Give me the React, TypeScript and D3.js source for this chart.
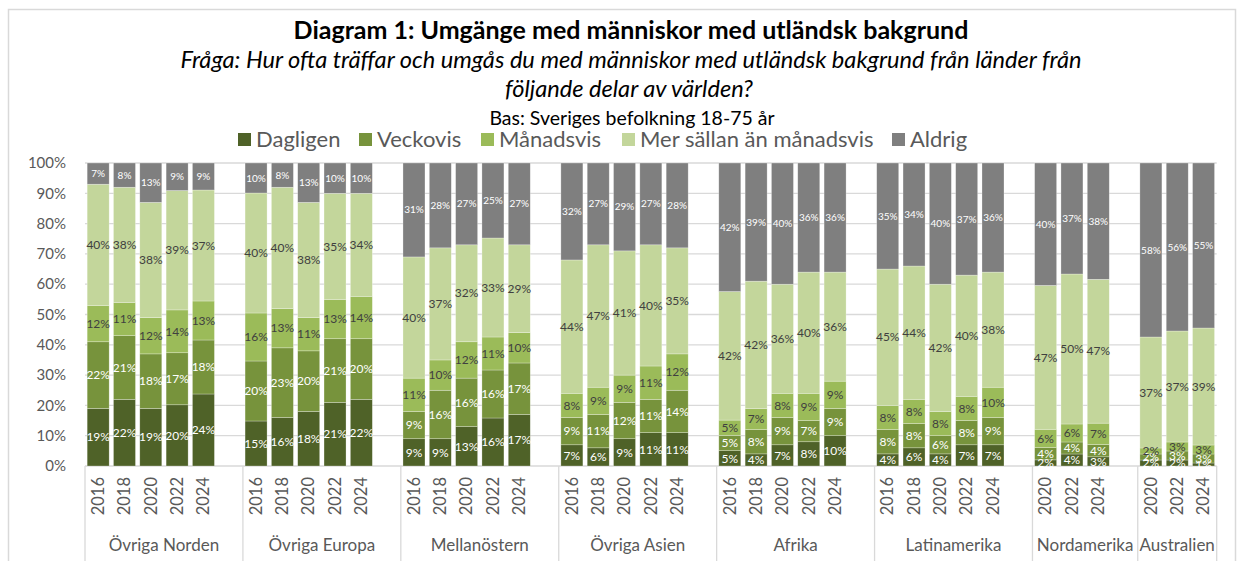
import React from "react";
import * as d3 from "d3";

// categories
const groups = [
  "Övriga Norden",
  "Övriga Europa",
  "Mellanöstern",
  "Övriga Asien",
  "Afrika",
  "Latinamerika",
  "Nordamerika",
  "Australien",
];
const yearsLong = ["2016", "2018", "2020", "2022", "2024"];
const yearsShort = ["2020", "2022", "2024"];
const groupYears = [yearsLong, yearsLong, yearsLong, yearsLong, yearsLong, yearsLong, yearsShort, yearsShort];

const seriesNames = ["Dagligen", "Veckovis", "Månadsvis", "Mer sällan än månadsvis", "Aldrig"];

// values in percent, one per bar, groups in order above
const dagligen = [19, 22, 19, 20, 24, 15, 16, 18, 21, 22, 9, 9, 13, 16, 17, 7, 6, 9, 11, 11, 5, 4, 7, 8, 10, 4, 6, 4, 7, 7, 2, 4, 3, 2, 2, 1];
const veckovis = [22, 21, 18, 17, 18, 20, 23, 20, 21, 20, 9, 16, 16, 16, 17, 9, 11, 12, 11, 14, 5, 8, 9, 7, 9, 8, 8, 6, 8, 9, 4, 4, 4, 2, 3, 3];
const manadsvis = [12, 11, 12, 14, 13, 16, 13, 11, 13, 14, 11, 10, 12, 11, 10, 8, 9, 9, 11, 12, 5, 7, 8, 9, 9, 8, 8, 8, 8, 10, 6, 6, 7, 2, 3, 3];
const merSallan = [40, 38, 38, 39, 37, 40, 40, 38, 35, 34, 40, 37, 32, 33, 29, 44, 47, 41, 40, 35, 42, 42, 36, 40, 36, 45, 44, 42, 40, 38, 47, 50, 47, 37, 37, 39];
const aldrig = [7, 8, 13, 9, 9, 10, 8, 13, 10, 10, 31, 28, 27, 25, 27, 32, 27, 29, 27, 28, 42, 39, 40, 36, 36, 35, 34, 40, 37, 36, 40, 37, 38, 58, 56, 55];

const seriesValues = [dagligen, veckovis, manadsvis, merSallan, aldrig];
const colors = ["#4f6228", "#77933c", "#9bbb59", "#c3d69b", "#7f7f7f"];
const labelColors = ["#ffffff", "#ffffff", "#404040", "#404040", "#ffffff"];

const FONT = "Lato, 'Open Sans', sans-serif";
const AXIS_GREY = "#595959";
const LINE_GREY = "#d9d9d9";

const App = () => {
  const width = 1244;
  const height = 561;
  const margin = { left: 85, right: 1216.7, top: 163, bottom: 466 };

  // build bar rows and slot keys (one blank slot after each group but the last)
  const rows: any[] = [];
  const slots: string[] = [];
  let k = 0;
  groupYears.forEach((years, gi) => {
    years.forEach((yr) => {
      const row: any = { key: `${gi}-${yr}`, group: gi, year: yr, idx: k };
      seriesNames.forEach((s, si) => (row[s] = seriesValues[si][k]));
      rows.push(row);
      slots.push(row.key);
      k++;
    });
    if (gi < groups.length - 1) slots.push(`${gi}-gap`);
  });

  const xScale = d3
    .scaleBand()
    .domain(slots)
    .range([margin.left, margin.right])
    .paddingInner(0.164)
    .paddingOuter(0.082);
  const yScale = d3.scaleLinear().domain([0, 1]).range([margin.bottom, margin.top]);

  const stacked = d3.stack().keys(seriesNames).offset(d3.stackOffsetExpand)(rows);

  const step = xScale.step();
  const bounds: number[] = [margin.left];
  let acc = 0;
  groupYears.forEach((years, gi) => {
    acc += years.length + (gi < groups.length - 1 ? 1 : 0);
    bounds.push(margin.left + acc * step);
  });

  const legendX = [238, 359, 481, 622, 892];

  return (
    <svg
      width={width}
      height={height}
      style={{ position: "absolute", left: 0, top: 0, background: "#fff", fontFamily: FONT }}
    >
      <rect x={8.5} y={9.5} width={1227} height={600} fill="#fff" stroke={LINE_GREY} strokeWidth={1.5} />

      <text x={631} y={39} textAnchor="middle" fontSize={25} fontWeight="bold" fill="#000">
        Diagram 1: Umgänge med människor med utländsk bakgrund
      </text>
      <text x={631} y={68} textAnchor="middle" fontSize={23.6} fontStyle="italic" fill="#000">
        Fråga: Hur ofta träffar och umgås du med människor med utländsk bakgrund från länder från
      </text>
      <text x={629} y={97} textAnchor="middle" fontSize={23.6} fontStyle="italic" fill="#000">
        följande delar av världen?
      </text>
      <text x={632} y={125} textAnchor="middle" fontSize={19.5} fill="#000">
        Bas: Sveriges befolkning 18-75 år
      </text>

      {seriesNames.map((s, i) => (
        <g key={s}>
          <rect x={legendX[i]} y={133} width={13} height={13} fill={colors[i]} />
          <text x={legendX[i] + 18} y={147} fontSize={22} fill={AXIS_GREY}>
            {s}
          </text>
        </g>
      ))}

      {yScale.ticks(10).map((t) => (
        <g key={t}>
          <line x1={margin.left} x2={margin.right} y1={yScale(t)} y2={yScale(t)} stroke={LINE_GREY} strokeWidth={1.3} />
          <text x={66} y={yScale(t)} dy="0.35em" textAnchor="end" fontSize={15} fill={AXIS_GREY}>
            {d3.format(".0%")(t)}
          </text>
        </g>
      ))}

      {stacked.map((layer, si) => (
        <g key={layer.key}>
          {layer.map((d: any) => (
            <rect
              key={d.data.key}
              x={xScale(d.data.key)}
              y={yScale(d[1])}
              width={xScale.bandwidth()}
              height={yScale(d[0]) - yScale(d[1])}
              fill={colors[si]}
              stroke="#ffffff"
              strokeOpacity={0.45}
              strokeWidth={0.6}
            />
          ))}
        </g>
      ))}

      {stacked.map((layer, si) => (
        <g key={`lbl-${layer.key}`}>
          {layer.map((d: any) => (
            <text
              key={d.data.key}
              x={(xScale(d.data.key) as number) + xScale.bandwidth() / 2}
              y={yScale((d[0] + d[1]) / 2)}
              dy="0.35em"
              textAnchor="middle"
              fontSize={si === 4 ? 10 : 12}
              fill={labelColors[si]}
            >
              {d.data[layer.key]}%
            </text>
          ))}
        </g>
      ))}

      {bounds.map((b, i) => (
        <line key={i} x1={b} x2={b} y1={margin.bottom} y2={height} stroke={LINE_GREY} strokeWidth={1.3} />
      ))}

      {rows.map((r) => (
        <text
          key={`yr-${r.key}`}
          transform={`translate(${(xScale(r.key) as number) + xScale.bandwidth() / 2}, 477) rotate(-90)`}
          dy="0.35em"
          textAnchor="end"
          fontSize={16.5}
          fill={AXIS_GREY}
        >
          {r.year}
        </text>
      ))}

      {groups.map((g, gi) => (
        <text key={g} x={(bounds[gi] + bounds[gi + 1]) / 2} y={551} textAnchor="middle" fontSize={17} fill={AXIS_GREY}>
          {g}
        </text>
      ))}
    </svg>
  );
};

export default App;
